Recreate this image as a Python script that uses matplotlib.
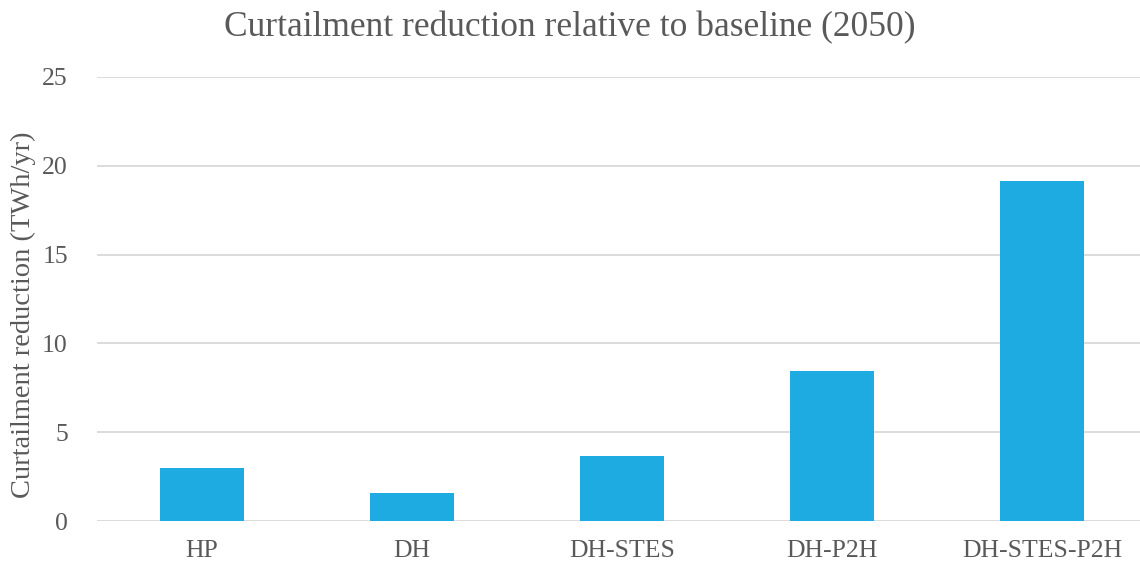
import matplotlib
matplotlib.use("Agg")
import matplotlib.pyplot as plt

categories = ["HP", "DH", "DH-STES", "DH-P2H", "DH-STES-P2H"]
values = [3.0, 1.6, 3.65, 8.45, 19.15]
yticks = [0, 5, 10, 15, 20, 25]

plt.rcParams['font.family'] = ['Liberation Serif', 'DejaVu Serif']
txt = '#595959'

fig = plt.figure(figsize=(11.4, 5.65), dpi=100)
ax = fig.add_axes([97/1140, 1-521/565, 1-97/1140, (521-77)/565])
x = list(range(len(categories)))
ax.bar(x, values, width=0.4, color='#1EABE2', zorder=3)
ax.set_xlim(-0.5, (1140-202)/210)
ax.set_ylim(0, 25)
ax.set_yticks(yticks)
ax.set_xticks(x)
ax.set_xticklabels(categories)
ax.grid(axis='y', color='#D9D9D9', linewidth=1.3, zorder=0)
for s in ax.spines.values():
    s.set_visible(False)
ax.tick_params(axis='both', length=0, labelsize=18.5, colors=txt)
ax.tick_params(axis='x', pad=14)
ax.tick_params(axis='y', pad=21)
fig.text(23/1140, 1-315/565, 'Curtailment reduction (TWh/yr)', rotation=90,
         ha='center', va='center', fontsize=20.5, color=txt)
fig.text(0.5, 1-28/565, 'Curtailment reduction relative to baseline (2050)', ha='center', va='center', fontsize=25.5, color=txt)
fig.savefig('out.png', dpi=100)
